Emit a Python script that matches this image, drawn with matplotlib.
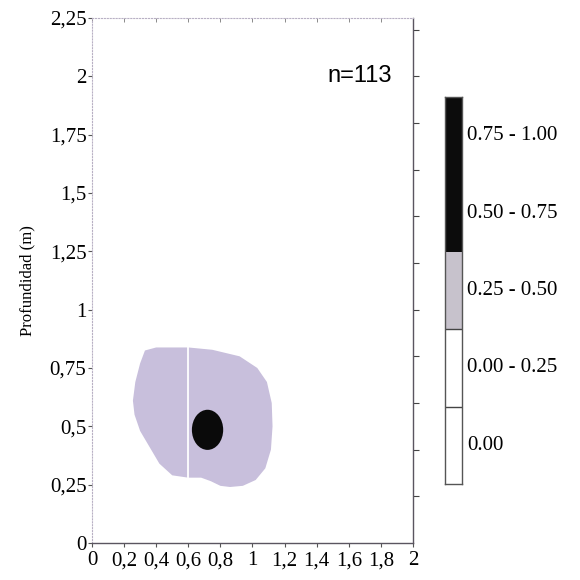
import numpy as np
import matplotlib
matplotlib.use('Agg')
import matplotlib.pyplot as plt
from matplotlib.patches import Polygon, Ellipse

# outline of the 0.25-0.50 zone (x = distance, y = depth, metres)
zone_x = [0.40, 0.60, 0.75, 0.92, 1.03, 1.09, 1.12, 1.125, 1.115, 1.08, 1.02,
          0.94, 0.86, 0.80, 0.74, 0.68, 0.60, 0.50, 0.42, 0.36, 0.30, 0.265,
          0.255, 0.27, 0.30, 0.33]
zone_y = [0.838, 0.838, 0.828, 0.80, 0.75, 0.69, 0.60, 0.50, 0.40, 0.32, 0.27,
          0.245, 0.24, 0.245, 0.265, 0.28, 0.28, 0.29, 0.34, 0.41, 0.48, 0.55,
          0.61, 0.69, 0.77, 0.825]
# 0.50-1.00 core
core_xy = (0.72, 0.485)
core_w, core_h = 0.195, 0.172
seam_x = 0.60

classes = ['0.00', '0.00 - 0.25', '0.25 - 0.50', '0.50 - 0.75', '0.75 - 1.00']
class_colors = ['white', 'white', '#c7c2cc', '#0c0c0c', '#0c0c0c']
zone_color = '#c8bfdc'
n_obs = 113

xticks = np.round(np.arange(0, 2.01, 0.2), 1)
yticks = np.arange(0, 2.26, 0.25)


def comma(v):
    s = ('%.2f' % v).rstrip('0').rstrip('.')
    return s.replace('.', ',')


plt.rcParams['font.family'] = 'Liberation Serif'
fig = plt.figure(figsize=(5.8, 5.8), dpi=100)
ax = fig.add_axes([0.1586, 0.0638, 0.5534, 0.9052])
ax.set_xlim(0, 2)
ax.set_ylim(0, 2.25)

ax.add_patch(Polygon(np.column_stack([zone_x, zone_y]), closed=True,
                     facecolor=zone_color, edgecolor='none', zorder=1))
ax.add_patch(Ellipse(core_xy, core_w, core_h, facecolor='#0a0a0a',
                     edgecolor='none', zorder=2))
ax.plot([seam_x, seam_x], [0.27, 0.84], color='white', lw=1.3, zorder=3)

ax.set_xticks(xticks)
ax.set_xticklabels([comma(v) for v in xticks], fontsize=15)
ax.set_yticks(yticks)
ax.set_yticklabels([comma(v) for v in yticks], fontsize=15)
ax.tick_params(axis='both', direction='out', length=3, width=0.8,
               color='#555555', pad=1)
ax.tick_params(axis='x', pad=3)

for side in ['top', 'left']:
    ax.spines[side].set_color('#b8b0c4')
    ax.spines[side].set_linestyle(':')
    ax.spines[side].set_linewidth(0.8)
for side in ['bottom', 'right']:
    ax.spines[side].set_color('#5a5560')
    ax.spines[side].set_linewidth(1.0)

# ticks drawn along the top and right edges
sec = ax.secondary_xaxis('top')
sec.set_xticks(xticks)
sec.set_xticklabels([])
sec.tick_params(direction='in', length=3, width=0.6, color='#777777')
sec.spines['top'].set_visible(False)
secy = ax.secondary_yaxis('right')
secy.set_yticks(np.arange(0.2, 2.25, 0.2))
secy.set_yticklabels([])
secy.tick_params(direction='out', length=4, width=0.8, color='#444444')
secy.spines['right'].set_visible(False)

ax.set_ylabel('Profundidad (m)', fontsize=12, labelpad=10)
ax.text(1.67, 2.0, 'n=%d' % n_obs, fontsize=17, family='Liberation Sans',
        ha='center', va='center')

# class legend bar
cax = fig.add_axes([0.767, 0.1655, 0.03, 0.667])
for i, c in enumerate(class_colors):
    cax.bar(0, 1, bottom=i, width=1, color=c, edgecolor='none')
    cax.text(0.8, i + 0.5, classes[i], fontsize=15, va='center', ha='left')
cax.hlines([1, 2], -0.5, 0.5, color='#444444', lw=1.0)
cax.set_xlim(-0.5, 0.5)
cax.set_ylim(0, 5)
cax.set_xticks([])
cax.set_yticks([])
for s in cax.spines.values():
    s.set_color('#555555')
    s.set_linewidth(1.0)

fig.savefig('out.png', dpi=100)
